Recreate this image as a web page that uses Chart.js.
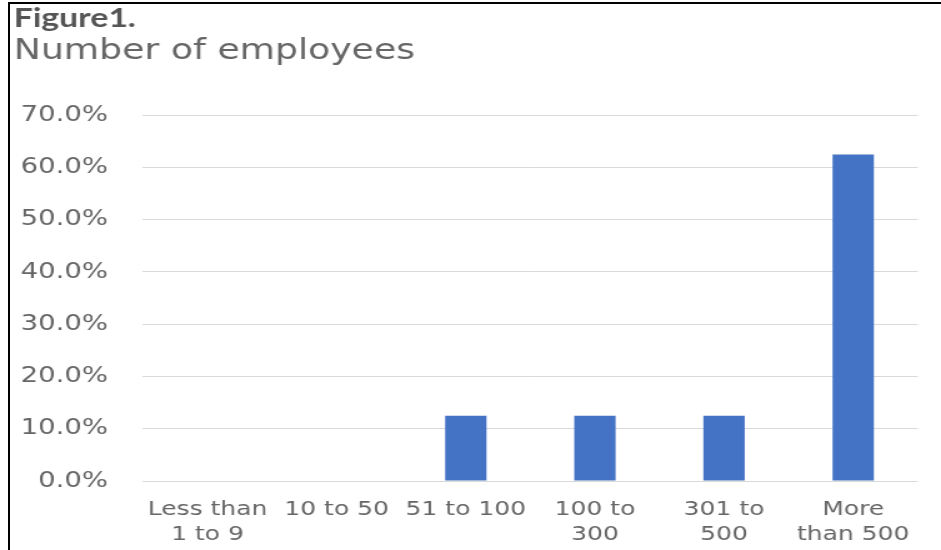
<!DOCTYPE html>
<html>
<head>
<meta charset="utf-8">
<script src="https://cdn.jsdelivr.net/npm/chart.js@4"></script>
<style>
  body { margin: 0; background: #fff; }
  .frame { position: relative; width: 941px; height: 550px; overflow: hidden; }
  .edge { position: absolute; left: 8px; top: 2px; right: 0; bottom: 0;
          border-left: 2px solid #000; border-top: 2px solid #000; pointer-events: none; }
</style>
</head>
<body>
<div class="frame">
  <!-- canvas is drawn narrow and stretched out wide, like the pasted figure -->
  <canvas id="myChart" width="753" height="550" style="width:941px;height:550px;"></canvas>
  <div class="edge"></div>
</div>
<script>
const categories = [['Less than', '1 to 9'], '10 to 50', '51 to 100', ['100 to', '300'], ['301 to', '500'], ['More', 'than 500']];
const shares = [0, 0, 12.5, 12.5, 12.5, 62.5];
const yTicks = [0, 10, 20, 30, 40, 50, 60, 70];

const grey = '#666666';
const ctx = document.getElementById('myChart').getContext('2d');
const myChart = new Chart(ctx, {
    type: 'bar',
    data: {
        labels: categories,
        datasets: [{
            label: 'Number of employees',
            data: shares,
            backgroundColor: '#4472C4',
            borderWidth: 0,
            barPercentage: 0.32,
            categoryPercentage: 1
        }]
    },
    options: {
        responsive: false,
        animation: false,
        devicePixelRatio: 1,
        layout: {
            padding: { left: 11, right: 18.6, top: 0, bottom: 0 }
        },
        plugins: {
            legend: { display: false },
            tooltip: { enabled: false },
            title: {
                display: true,
                text: 'Figure1.',
                align: 'start',
                color: '#555555',
                font: { family: 'Lato', size: 27, weight: 'bold', lineHeight: 1.2 },
                padding: { top: 2, bottom: 0 }
            },
            subtitle: {
                display: true,
                text: 'Number of employees',
                align: 'start',
                color: grey,
                font: { family: 'DejaVu Sans', size: 29, lineHeight: 1.2 },
                padding: { top: 0, bottom: 46 }
            }
        },
        scales: {
            y: {
                min: yTicks[0],
                max: yTicks[yTicks.length - 1],
                afterBuildTicks: (scale) => {
                    scale.ticks = yTicks.map(v => ({ value: v }));
                },
                afterFit: (scale) => { scale.width = 103.4; },
                border: { display: false },
                grid: { color: '#d9d9d9', lineWidth: 1, drawTicks: false },
                ticks: {
                    color: grey,
                    padding: 28,
                    font: { family: 'DejaVu Sans', size: 22 },
                    callback: (v) => v.toFixed(1) + '%'
                }
            },
            x: {
                border: { display: false },
                grid: { display: false, drawTicks: false },
                afterFit: (scale) => { scale.height = 69; },
                ticks: {
                    color: grey,
                    padding: 16,
                    maxRotation: 0,
                    autoSkip: false,
                    font: { family: 'DejaVu Sans', size: 20, lineHeight: 1.25 }
                }
            }
        }
    }
});
</script>
</body>
</html>
